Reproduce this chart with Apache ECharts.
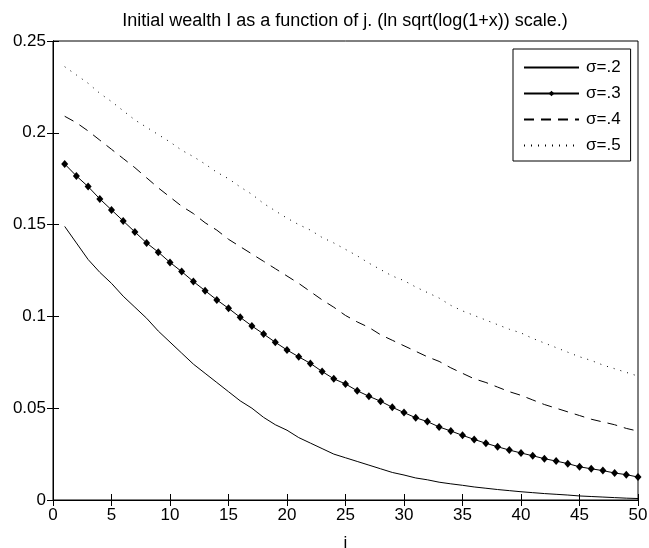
<!DOCTYPE html>
<html>
<head>
<meta charset="utf-8">
<script src="https://cdn.jsdelivr.net/npm/echarts@6/dist/echarts.min.js"></script>
<style>html,body{margin:0;padding:0;background:#fff;}#c{width:649px;height:548px;}</style>
</head>
<body>
<div id="c"></div>
<script>
var titleText = 'Initial wealth I as a function of j. (ln sqrt(log(1+x)) scale.)';
var xName = 'j';
var seriesNames = ['σ=.2', 'σ=.3', 'σ=.4', 'σ=.5'];
var jValues = [];
for (var k = 1; k <= 50; k++) jValues.push(k);

var sigma2 = [0.149,0.140,0.131,0.124,0.118,0.111,0.105,0.099,0.092,0.086,
  0.080,0.074,0.069,0.064,0.059,0.054,0.050,0.045,0.041,0.038,
  0.034,0.031,0.028,0.025,0.023,0.021,0.019,0.017,0.015,0.0136,
  0.012,0.011,0.0097,0.0088,0.008,0.0071,0.0064,0.0057,0.0051,0.0045,
  0.004,0.0035,0.0031,0.0027,0.0022,0.0019,0.0016,0.0013,0.001,0.0008];
var sigma3 = [0.183,0.1765,0.1707,0.164,0.158,0.152,0.146,0.140,0.135,0.1294,
  0.1244,0.119,0.114,0.109,0.1044,0.0995,0.0948,0.0904,0.0859,0.0817,
  0.078,0.0744,0.070,0.066,0.0632,0.0595,0.0565,0.0538,0.0505,0.0476,
  0.0448,0.0427,0.0398,0.0376,0.0352,0.033,0.0309,0.029,0.0272,0.0256,
  0.0241,0.0225,0.0212,0.0198,0.0181,0.017,0.016,0.0147,0.0138,0.0125];
var sigma4 = [0.209,0.2055,0.201,0.196,0.191,0.186,0.181,0.1755,0.170,0.165,
  0.160,0.156,0.151,0.147,0.142,0.138,0.134,0.130,0.126,0.122,
  0.118,0.1135,0.109,0.105,0.1005,0.097,0.094,0.090,0.087,0.084,
  0.081,0.078,0.0755,0.072,0.069,0.066,0.064,0.0615,0.059,0.057,
  0.0545,0.052,0.050,0.048,0.046,0.044,0.0425,0.041,0.039,0.0375];
var sigma5 = [0.236,0.2315,0.227,0.2215,0.217,0.212,0.207,0.203,0.199,0.195,
  0.1905,0.187,0.183,0.1785,0.175,0.1705,0.1665,0.1615,0.1575,0.1535,
  0.150,0.147,0.143,0.140,0.1365,0.133,0.129,0.1255,0.122,0.1195,
  0.116,0.113,0.110,0.106,0.103,0.1005,0.098,0.0955,0.093,0.091,
  0.088,0.0855,0.083,0.0805,0.078,0.076,0.0735,0.0715,0.0695,0.0675];

function pairs(vals){ return jValues.map(function(j,i){ return [j, vals[i]]; }); }

var FONT = 'Liberation Sans';
var chart = echarts.init(document.getElementById('c'), null, {renderer:'canvas'});
var axisLine = {show:true, lineStyle:{color:'#000', width:1}};
var tick = {show:true, inside:true, length:6, lineStyle:{color:'#000', width:1}};
var baseLine = {type:'line', showSymbol:false, symbol:'none', animation:false,
  lineStyle:{color:'#000', width:1}, itemStyle:{color:'#000'}};

chart.setOption({
  backgroundColor:'#fff',
  animation:false,
  title:{text:titleText, left:340, top:7, textAlign:'center',
    textStyle:{fontFamily:FONT, fontSize:18, fontWeight:'normal', color:'#000'}},
  grid:{left:53, right:11, top:41, bottom:48, show:true, borderColor:'#000', borderWidth:1,
    backgroundColor:'#fff', containLabel:false, outerBoundsMode:'none'},
  legend:{orient:'vertical', left:513, top:49, padding:[10,10,7,10],
    backgroundColor:'#fff', borderColor:'#000', borderWidth:1, borderRadius:0,
    itemWidth:55, itemHeight:7, itemGap:9,
    textStyle:{fontFamily:FONT, fontSize:17, lineHeight:17, color:'#000', padding:[0,0,0,2]},
    data:[
      {name:seriesNames[0], itemStyle:{opacity:0}},
      {name:seriesNames[1]},
      {name:seriesNames[2], itemStyle:{opacity:0}},
      {name:seriesNames[3], itemStyle:{opacity:0}}
    ]},
  xAxis:[
    {type:'value', min:0, max:50, interval:5, position:'bottom',
     name:xName, nameLocation:'middle', nameGap:35,
     nameTextStyle:{fontFamily:FONT, fontSize:17, color:'#000'},
     axisLine:axisLine, axisTick:tick, splitLine:{show:false},
     axisLabel:{fontFamily:FONT, fontSize:17, color:'#000', margin:7}},
    {type:'value', min:0, max:50, interval:5, position:'top',
     axisLine:axisLine, axisTick:tick, splitLine:{show:false}, axisLabel:{show:false}}
  ],
  yAxis:[
    {type:'value', min:0, max:0.25, interval:0.05, position:'left',
     axisLine:axisLine, axisTick:tick, splitLine:{show:false},
     axisLabel:{fontFamily:FONT, fontSize:17, color:'#000', margin:7}},
    {type:'value', min:0, max:0.25, interval:0.05, position:'right',
     axisLine:axisLine, axisTick:tick, splitLine:{show:false}, axisLabel:{show:false}}
  ],
  series:[
    Object.assign({}, baseLine, {name:seriesNames[0], data:pairs(sigma2)}),
    Object.assign({}, baseLine, {name:seriesNames[1], data:pairs(sigma3), showSymbol:true,
      symbol:'diamond', symbolSize:[7,8]}),
    Object.assign({}, baseLine, {name:seriesNames[2], data:pairs(sigma4),
      lineStyle:{color:'#000', width:1, type:[10,7]}}),
    Object.assign({}, baseLine, {name:seriesNames[3], data:pairs(sigma5),
      lineStyle:{color:'#000', width:1, type:[1,6]}})
  ]
});
</script>
</body>
</html>
